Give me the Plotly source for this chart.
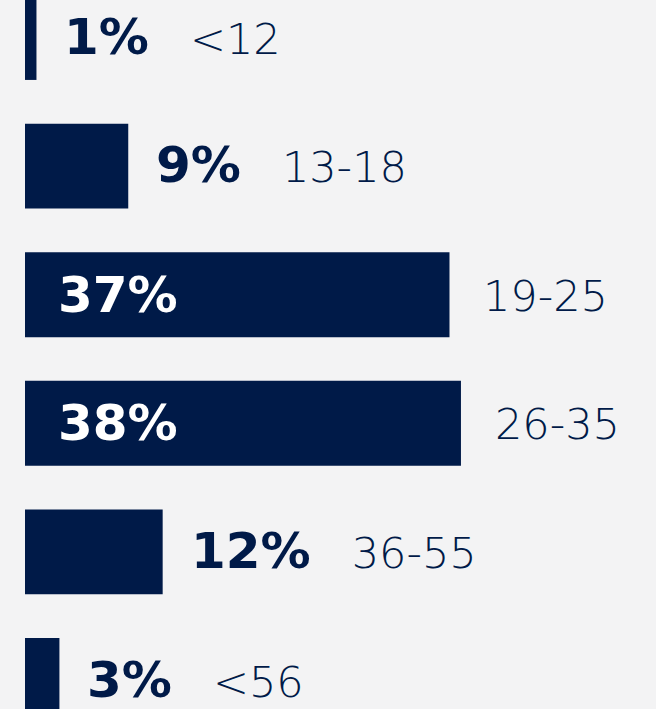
import plotly.graph_objects as go

age_groups = ["<12", "13-18", "19-25", "26-35", "36-55", "<56"]
shares = [1, 9, 37, 38, 12, 3]
pct_labels = ["1%", "9%", "37%", "38%", "12%", "3%"]
inside_rows = [False, False, True, True, False, False]

navy = "#001a48"
bg = "#f3f3f4"

fig = go.Figure(go.Bar(
    x=shares, y=age_groups, orientation="h",
    marker=dict(color=navy, line=dict(width=0)),
    hoverinfo="skip",
))

pct_size = 50
age_size = 43
annotations = []
for g, v, p, inside in zip(age_groups, shares, pct_labels, inside_rows):
    pct_html = f"<span style='font-size:{pct_size}px;font-weight:900'>{p}</span>"
    if inside:
        annotations.append(dict(
            x=0, y=g, xref="x", yref="y", text=pct_html,
            showarrow=False, xanchor="left", yanchor="middle", xshift=31, yshift=0,
            font=dict(family="DejaVu Sans", size=age_size, color="white", weight=300),
        ))
        annotations.append(dict(
            x=v, y=g, xref="x", yref="y", text=g,
            showarrow=False, xanchor="left", yanchor="middle", xshift=32, yshift=-1,
            font=dict(family="DejaVu Sans", size=age_size, color=navy, weight=300),
        ))
    else:
        annotations.append(dict(
            x=v, y=g, xref="x", yref="y",
            text=pct_html + "\u00a0\u00a0\u00a0" + g,
            showarrow=False, xanchor="left", yanchor="middle", xshift=26, yshift=1,
            font=dict(family="DejaVu Sans", size=age_size, color=navy, weight=300),
        ))

fig.update_layout(
    width=656, height=709,
    margin=dict(l=25, r=0, t=0, b=0),
    paper_bgcolor=bg, plot_bgcolor=bg,
    bargap=0.34,
    showlegend=False,
    annotations=annotations,
    xaxis=dict(range=[0, 55], visible=False, fixedrange=True),
    yaxis=dict(type="category", categoryorder="array", categoryarray=age_groups,
               range=[5.2216, -0.2916], visible=False, fixedrange=True),
)

fig.write_html(
    "out.html",
    config={"displayModeBar": False},
    post_script="document.body.style.margin='0';document.body.style.padding='0';"
                "document.body.style.background='" + bg + "';"
                "document.body.style.overflow='hidden';",
)
